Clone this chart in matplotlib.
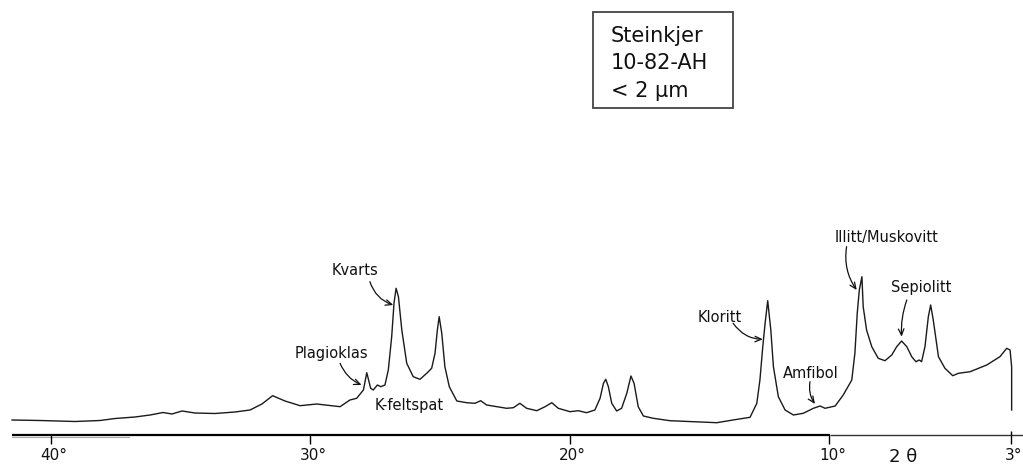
import numpy as np
import matplotlib.pyplot as plt
from matplotlib.patches import Rectangle

# Diffractogram trace: 2-theta (deg) and intensity (a.u.)
two_theta = [41.49, 40.41, 39.06, 38.10, 37.52, 36.75, 36.17, 35.67, 35.33, 34.94,
             34.44, 33.67, 32.90, 32.32, 31.86, 31.45, 30.97, 30.39, 29.75, 28.85,
             28.47, 28.21, 27.95, 27.82, 27.67, 27.57, 27.41, 27.28, 27.12, 26.99,
             26.86, 26.77, 26.69, 26.60, 26.47, 26.28, 26.03, 25.77, 25.51, 25.32,
             25.19, 25.10, 25.03, 24.93, 24.81, 24.64, 24.35, 23.97, 23.65, 23.43,
             23.20, 22.43, 22.17, 21.92, 21.66, 21.27, 20.95, 20.69, 20.44, 19.99,
             19.67, 19.35, 19.03, 18.83, 18.70, 18.61, 18.51, 18.38, 18.19, 18.00,
             17.80, 17.64, 17.52, 17.36, 17.16, 16.78, 16.14, 14.33, 13.71, 13.05,
             12.79, 12.67, 12.56, 12.47, 12.37, 12.25, 12.15, 11.96, 11.70, 11.38,
             11.00, 10.61, 10.35, 10.16, 9.77, 9.46, 9.13, 9.01, 8.92, 8.84,
             8.74, 8.69, 8.56, 8.36, 8.11, 7.85, 7.59, 7.40, 7.21, 7.01,
             6.82, 6.66, 6.53, 6.44, 6.31, 6.18, 6.09, 5.99, 5.79, 5.54,
             5.24, 5.02, 4.57, 3.93, 3.42, 3.16, 3.03, 2.97, 2.97]
intensity = [15, 14.5, 13.5, 14.5, 16.5, 18, 20, 22.5, 21, 24,
             22, 21.5, 23, 25, 31, 39.3, 34, 29.3, 31, 28.3,
             35, 36.7, 45, 62.3, 46.7, 45, 50, 48.3, 50, 65,
             98.3, 132, 146.7, 138.3, 105, 71.7, 58.3, 55.7, 61.7, 66.7,
             81.7, 105, 118.3, 101.7, 68.3, 48.3, 34, 32.3, 31.7, 34.3,
             30, 26.7, 27.3, 31.7, 26.7, 24.3, 28.3, 32.3, 26.7, 23.3,
             24.3, 22.3, 25, 36.7, 51.7, 55.7, 48.3, 31.7, 24, 26.7,
             41.7, 59, 51.7, 28.3, 19, 16.7, 14.3, 12.3, 15, 17.7,
             31.7, 55, 88.3, 111.7, 134.3, 105, 68.3, 38.3, 25, 20,
             21.7, 26.7, 29, 26.7, 29, 40, 55, 81.7, 121.7, 145,
             158.3, 128.3, 105, 88.3, 76.7, 74.3, 80, 88.3, 94, 88.3,
             78.3, 73.3, 75, 73.3, 88.3, 118.3, 130, 115, 78.3, 66.7,
             59.3, 61.7, 63.3, 70, 78.3, 86.7, 85, 68.3, 25]

tick_pos = [40, 30, 20, 10, 3]
tick_labels = ['40°', '30°', '20°', '10°', '3°']

# mineral labels: text, text position (baseline), arrow tail, arrow head, curvature
labels = [
    ('Kvarts',           (28.27, 160),  (27.70, 153.3), (26.80, 130),  0.25),
    ('Plagioklas',       (29.17, 76.7), (28.85, 71.7),  (28.02, 50),   0.2),
    ('K-feltspat',       (26.17, 25),   None,           None,          0),
    ('Kloritt',          (14.21, 113.3),(13.70, 111.7), (12.56, 95.7), 0.25),
    ('Amfibol',          (10.70, 56.7), (10.74, 53.3),  (10.55, 31),   0.2),
    ('Illitt/Muskovitt', (7.78, 193.3), (9.33, 188.3),  (8.94, 145),   0.2),
    ('Sepiolitt',        (6.46, 143),   (7.01, 135),    (7.21, 98.3),  0.1),
]

sample_lines = ['Steinkjer', '10-82-AH', '< 2 μm']

fig = plt.figure(figsize=(10.23, 4.66), dpi=100)
ax = fig.add_axes([0, 0, 1, 1])
ax.set_xlim(41.954, 2.532)
ax.set_ylim(-31, 435)
ax.axis('off')

# trace
ax.plot(two_theta, intensity, color='#1a1a1a', lw=1.0)

# 2-theta axis
ax.plot([41.49, 9.96], [0, 0], color='black', lw=1.6, solid_capstyle='butt')
ax.plot([9.96, 2.532], [0, 0], color='#333333', lw=1.0, solid_capstyle='butt')
ax.plot([41.49, 37.0], [-1.5, -1.5], color='#aaaaaa', lw=0.8)
ax.vlines(tick_pos, -9, 0, color='black', lw=1.0)
ax.vlines([3], 0, 4, color='black', lw=1.0)
for t, lab in zip(tick_pos, tick_labels):
    ax.text(t - 0.12, -25, lab, ha='center', va='baseline', fontsize=11, color='#111111')
ax.text(7.16, -27.5, '2 θ', ha='center', va='baseline', fontsize=13, color='#111111')

# mineral annotations
for name, txt, tail, head, rad in labels:
    ax.text(txt[0], txt[1], name, ha='center', va='baseline', fontsize=10.5, color='#111111')
    if tail is not None:
        ax.annotate('', xy=head, xytext=tail,
                    arrowprops=dict(arrowstyle='->,head_length=0.45,head_width=0.2',
                                    connectionstyle=f'arc3,rad={rad}',
                                    color='#111111', lw=0.9, shrinkA=0, shrinkB=0))

# sample box
ax.add_patch(Rectangle((19.09, 326.7), 13.70 - 19.09, 96, fill=False,
                       edgecolor='#444444', lw=1.3))
for i, line in enumerate(sample_lines):
    ax.text(18.41, 393.3 - i * 27.5, line, ha='left', va='baseline', fontsize=15,
            color='#111111')

fig.savefig('out.png', dpi=100)
